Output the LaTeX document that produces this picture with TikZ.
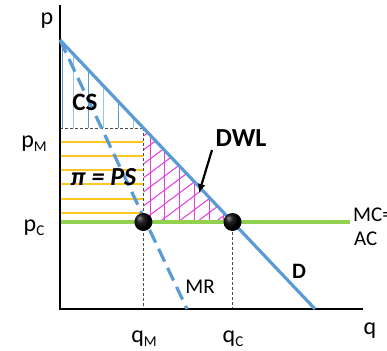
\documentclass[tikz,border=0pt]{standalone}
\usepackage{fontspec}
\setmainfont{Carlito}
\usetikzlibrary{arrows.meta}
\definecolor{dblue}{RGB}{91,155,213}
\definecolor{lblue}{RGB}{157,195,230}
\definecolor{mcgreen}{RGB}{146,208,80}
\definecolor{psyellow}{RGB}{255,200,30}
\definecolor{dwlpink}{RGB}{226,60,226}
\pgfdeclareradialshading{dotball}{\pgfqpoint{-12bp}{12bp}}{color(0bp)=(black!45); color(10bp)=(black!85); color(22bp)=(black); color(50bp)=(black)}
\newcommand\lowsub[1]{\raisebox{-4pt}{\fontsize{15}{15}\selectfont #1}}
\tikzset{
  lab/.style={font=\fontsize{24}{28}\selectfont, inner sep=0pt, anchor=base},
  axisline/.style={line width=2.6pt, black},
  demand/.style={line width=3.2pt, dblue},
  mrline/.style={line width=3.2pt, dblue, dash pattern=on 14pt off 7pt},
  guide/.style={line width=0.8pt, black!70, dash pattern=on 3pt off 2pt},
  mcline/.style={line width=3.5pt, mcgreen},
  cshatch/.style={line width=1pt},
  pshatch/.style={line width=1.1pt, psyellow},
  dwlhatch/.style={line width=1pt, dwlpink},
  dotstyle/.style={circle, minimum size=18pt, inner sep=0pt, shading=dotball},
}
\begin{document}
\begin{tikzpicture}[x=1pt,y=-1pt]
\useasboundingbox (0,0) rectangle (387,350);
\clip (0,0) rectangle (387,350);
% key coordinates
\coordinate (O) at (60,309);
\coordinate (Ytop) at (60,5);
\coordinate (Xend) at (363,309);
\coordinate (A) at (60,40);
\coordinate (Dend) at (315,309);
\coordinate (MRend) at (187,309);
\coordinate (PM) at (60,128);
\coordinate (M) at (143.4,128);
\coordinate (PC) at (60,222);
\coordinate (Mb) at (143.4,222);
\coordinate (C) at (232.5,222);
\coordinate (Gend) at (350,222);
\coordinate (qMax) at (143.4,309);
\coordinate (qCax) at (232.5,309);
% CS hatch
\begin{scope}
\clip (A) -- (PM) -- (M) -- cycle;
\foreach \x/\c in {62.5/dblue,73/lblue,88/dblue,103/lblue,118/dblue,133/lblue}
  \draw[cshatch, \c] (\x,30) -- (\x,128);
\end{scope}
% PS hatch
\foreach \y in {142,156,170,184,199,213}
  \draw[pshatch] (60,\y) -- (143.4,\y);
% DWL hatch
\begin{scope}
\clip (M) -- (Mb) -- (C) -- cycle;
\foreach \x in {150,164.5,179,194,209,223}
  \draw[dwlhatch] (\x,120) -- (\x,230);
\foreach \k in {0,...,12}
  \draw[dwlhatch] (143.4,136+14*\k) -- (263.4,46+14*\k);
\end{scope}
% guides
\draw[guide] (PM) -- (M);
\draw[guide] (M) -- (qMax);
\draw[guide] (C) -- (qCax);
% MC = AC
\draw[mcline] (PC) -- (Gend);
% axes
\draw[axisline] (Ytop) -- (O) -- (Xend);
% curves
\draw[mrline] (A) -- (MRend);
\draw[demand] (A) -- (Dend);
% dots
\node[dotstyle] (dotM) at (143.4,222) {};
\node[dotstyle] (dotC) at (232.5,222) {};
% labels
\node[lab] (p) at (47,24.5) {p};
\node[lab] (q) at (370,334.5) {q};
\node[lab] (pm) at (34,147) {p\lowsub{M}};
\node[lab] (pc) at (34,231) {p\lowsub{C}};
\node[lab] (qm) at (144,342) {q\lowsub{M}};
\node[lab] (qc) at (233,342) {q\lowsub{C}};
\node[lab, font=\fontsize{25}{30}\selectfont\bfseries] (cs) at (85,110) {CS};
\node[lab, font=\fontsize{26}{30}\selectfont\bfseries\itshape] (ps) at (103.5,185) {π = PS};
\node[lab, font=\fontsize{26}{30}\selectfont\bfseries] (dwl) at (241,146) {DWL};
\node[lab, font=\fontsize{21}{25}\selectfont] (mr) at (200,293) {MR};
\node[lab, font=\fontsize{22}{26}\selectfont\bfseries] (d) at (299,278.5) {D};
\node[lab, anchor=base west, font=\fontsize{21}{25}\selectfont] (mc) at (353,221) {MC=};
\node[lab, anchor=base west, font=\fontsize{21}{25}\selectfont] (ac) at (354,245) {AC};
% DWL arrow
\coordinate (arrS) at (212,150);
\coordinate (arrE) at (199,193);
\draw[line width=2.2pt, -{Latex[length=9pt,width=8pt]}] (arrS) -- (arrE);
\end{tikzpicture}
\end{document}
